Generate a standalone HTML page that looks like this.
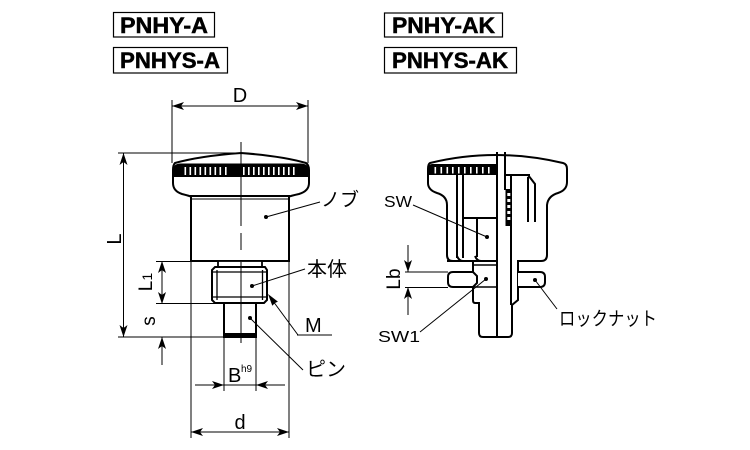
<!DOCTYPE html>
<html><head><meta charset="utf-8"><style>
html,body{margin:0;padding:0;background:#fff;}
svg{display:block;}
text{font-family:"Liberation Sans","Noto Sans CJK JP",sans-serif;fill:#000;}
</style></head><body>
<svg width="750" height="450" viewBox="0 0 750 450" xmlns="http://www.w3.org/2000/svg">
<!-- Title boxes -->
<g fill="none" stroke="#000" stroke-width="1.2">
<rect x="113.5" y="12.5" width="101" height="24.5"/>
<rect x="113.5" y="47.5" width="114" height="25.5"/>
<rect x="384.5" y="13" width="118" height="24"/>
<rect x="384.5" y="47.5" width="132" height="25.5"/>
</g>
<g font-weight="bold" font-size="22" stroke="#000" stroke-width="0.5">
<text x="120" y="33" textLength="88" lengthAdjust="spacingAndGlyphs">PNHY-A</text>
<text x="120" y="68" textLength="100" lengthAdjust="spacingAndGlyphs">PNHYS-A</text>
<text x="392" y="33" textLength="103" lengthAdjust="spacingAndGlyphs">PNHY-AK</text>
<text x="392" y="68" textLength="116" lengthAdjust="spacingAndGlyphs">PNHYS-AK</text>
</g>

<!-- ===== LEFT DRAWING ===== -->
<path d="M175,163 Q200,156 241,153 Q282,156 306,163 Q309,165 309,170 L309,183 Q309,191 299,194 Q290,196 288,197 L192,197 Q190,196 182,194 Q173,191 173,183 L173,170 Q173,165 175,163 Z" fill="#fff" stroke="#000" stroke-width="2"/>
<path d="M173,177 L173,170 Q173,164 180,163.5 L301,163.5 Q309,164 309,170 L309,177 Z" fill="#000"/>
<g fill="#fff">
<rect x="184.5" y="167" width="1.6" height="8"/><rect x="189.5" y="167" width="1.6" height="8"/><rect x="194.5" y="167" width="1.6" height="8"/><rect x="199.5" y="167" width="1.6" height="8"/><rect x="204.5" y="167" width="1.6" height="8"/><rect x="209.5" y="167" width="1.6" height="8"/><rect x="214.5" y="167" width="1.6" height="8"/><rect x="219.5" y="167" width="1.6" height="8"/><rect x="225" y="167" width="1.6" height="8"/>
<rect x="243" y="167" width="1.6" height="8"/><rect x="248" y="167" width="1.6" height="8"/><rect x="253" y="167" width="1.6" height="8"/><rect x="258" y="167" width="1.6" height="8"/><rect x="263" y="167" width="1.6" height="8"/><rect x="268" y="167" width="1.6" height="8"/><rect x="273" y="167" width="1.6" height="8"/><rect x="278" y="167" width="1.6" height="8"/><rect x="283" y="167" width="1.6" height="8"/><rect x="288" y="167" width="1.6" height="8"/><rect x="293" y="167" width="1.6" height="8"/>
</g>
<rect x="191" y="196" width="98" height="65" fill="#fff" stroke="#000" stroke-width="2"/>
<line x1="191" y1="199" x2="289" y2="199" stroke="#000" stroke-width="1"/>
<rect x="218" y="261" width="44" height="6" fill="#fff" stroke="#000" stroke-width="1.8"/>
<path d="M215,267 L265,267 L267,270 L267,300 L264,303 L215,303 L212,300 L212,270 Z" fill="#fff" stroke="#000" stroke-width="2"/>
<g stroke="#000" stroke-width="1.3">
<line x1="212" y1="272" x2="267" y2="272"/>
<line x1="212" y1="297" x2="267" y2="297"/>
<line x1="217" y1="270" x2="217" y2="300"/>
<line x1="262.5" y1="270" x2="262.5" y2="300"/>
</g>
<rect x="224" y="303" width="32" height="34" fill="#fff" stroke="#000" stroke-width="2"/>
<rect x="224" y="333" width="32" height="4" fill="#000"/>
<g stroke="#000" stroke-width="1">
<line x1="241" y1="142" x2="241" y2="226"/>
<line x1="241" y1="233" x2="241" y2="250"/>
<line x1="241" y1="262" x2="241" y2="343"/>
</g>
<g stroke="#000" stroke-width="1" fill="none">
<line x1="172" y1="100" x2="172" y2="163"/>
<line x1="308" y1="100" x2="308" y2="163"/>
<line x1="172" y1="106" x2="308" y2="106"/>
<line x1="118" y1="153" x2="241" y2="153"/>
<line x1="118" y1="337" x2="224" y2="337"/>
<line x1="123.5" y1="153" x2="123.5" y2="337"/>
<line x1="156" y1="261.5" x2="191" y2="261.5"/>
<line x1="156" y1="303.5" x2="224" y2="303.5"/>
<line x1="162" y1="261" x2="162" y2="304"/>
<line x1="162" y1="337" x2="162" y2="365"/>
<line x1="224" y1="337" x2="224" y2="391"/>
<line x1="256" y1="337" x2="256" y2="391"/>
<line x1="195" y1="385" x2="285" y2="385"/>
<line x1="191" y1="261" x2="191" y2="438"/>
<line x1="289" y1="261" x2="289" y2="438"/>
<line x1="191" y1="432" x2="289" y2="432"/>
<line x1="266" y1="217" x2="320" y2="202"/>
<line x1="252" y1="286" x2="305" y2="269"/>
<line x1="250" y1="318" x2="303" y2="370"/>
<line x1="298" y1="335" x2="270" y2="297"/>
<line x1="297" y1="335" x2="332" y2="335"/>
</g>
<g fill="#000">
<polygon points="172,106 184,102 181,106 184,110"/>
<polygon points="308,106 296,102 299,106 296,110"/>
<polygon points="123.5,153 119.5,165 123.5,162 127.5,165"/>
<polygon points="123.5,337 119.5,325 123.5,328 127.5,325"/>
<polygon points="162,261 158,273 162,270 166,273"/>
<polygon points="162,304 158,292 162,295 166,292"/>
<polygon points="162,337 158,349 162,346 166,349"/>
<polygon points="224,385 212,381 215,385 212,389"/>
<polygon points="256,385 268,381 265,385 268,389"/>
<polygon points="191,432 203,428 200,432 203,436"/>
<polygon points="289,432 277,428 280,432 277,436"/>
<polygon points="268,294 277.9,301.6 275,303 272.3,305.8"/>
<circle cx="266" cy="217" r="2"/>
<circle cx="252" cy="286" r="2"/>
<circle cx="250" cy="318" r="2"/>
</g>
<text x="240" y="102" font-size="20" text-anchor="middle">D</text>
<text transform="translate(121,239) rotate(-90)" font-size="20" text-anchor="middle">L</text>
<text transform="translate(152,282) rotate(-90)" font-size="19" text-anchor="middle">L<tspan font-size="14">1</tspan></text>
<text transform="translate(155,321) rotate(-90)" font-size="19" text-anchor="middle">s</text>
<text x="228" y="382" font-size="20">B</text>
<text x="241" y="372" font-size="10">h9</text>
<text x="240" y="429" font-size="20" text-anchor="middle">d</text>
<text x="305" y="332" font-size="20">M</text>
<text x="321" y="206" font-size="19">ノブ</text>
<text x="307" y="276" font-size="20">本体</text>
<text x="306" y="376" font-size="20">ピン</text>

<!-- ===== RIGHT DRAWING ===== -->
<path d="M430,163 Q495,147 563,163 Q567,164 567,169 L567,182 Q567,190 558,193 Q548,196 547,205 L547,255 Q547,261 541,261 L518,261 L518,300 L512,305 L512,333 Q512,337 508,337 L483,337 Q479,337 479,333 L479,303 L475,303 Q473,303 473,300 L473,261 L453,261 Q447,261 447,255 L447,205 Q447,196 437,193 Q428,190 428,183 L428,169 Q428,164 430,163 Z" fill="#fff" stroke="#000" stroke-width="2"/>
<path d="M428,175 L428,169 Q428,164 432,164 L497,164 L497,175 Z" fill="#000"/>
<g fill="#fff">
<rect x="434.5" y="167" width="1.6" height="6.5"/><rect x="440.5" y="167" width="1.6" height="6.5"/><rect x="446.5" y="167" width="1.6" height="6.5"/><rect x="452" y="167" width="1.6" height="6.5"/><rect x="458" y="167" width="1.6" height="6.5"/><rect x="464" y="167" width="1.6" height="6.5"/><rect x="470" y="167" width="1.6" height="6.5"/><rect x="476" y="167" width="1.6" height="6.5"/><rect x="482" y="167" width="1.6" height="6.5"/><rect x="488" y="167" width="1.6" height="6.5"/>
</g>
<g stroke="#000" stroke-width="2" fill="none">
<line x1="457" y1="175" x2="457" y2="258"/>
<line x1="463" y1="175" x2="463" y2="258"/>
<line x1="463" y1="218" x2="497" y2="218"/>
<line x1="477" y1="218" x2="477" y2="257"/>
<path d="M457,256 Q459,261 463,261"/>
<path d="M475,256 Q477,261 481,261"/>
<line x1="447" y1="261" x2="497" y2="261"/>
<line x1="497" y1="152" x2="497" y2="337"/>
<line x1="505" y1="152" x2="505" y2="190"/>
<line x1="511" y1="175" x2="511" y2="305"/>
<line x1="505" y1="175" x2="530" y2="175"/>
<polyline points="528,175 535,184 535,222"/>
<line x1="528" y1="177" x2="528" y2="222"/>
<path d="M473,265 L497,265" stroke-width="1.5"/>
<path d="M473,287 L497,287" stroke-width="1.5"/>
</g>
<rect x="505.5" y="189" width="6.5" height="37" fill="#000"/>
<g fill="#fff">
<rect x="507.3" y="193" width="3" height="3"/><rect x="507.3" y="199" width="3" height="3"/><rect x="507.3" y="205" width="3" height="3"/><rect x="507.3" y="211" width="3" height="3"/><rect x="507.3" y="217" width="3" height="3"/>
</g>
<path d="M453,272 L473,272 L477,276 L477,283 L473,287 L453,287 Q448,287 448,282 L448,277 Q448,272 453,272 Z" fill="#fff" stroke="#000" stroke-width="2"/>
<path d="M518,272 L540,272 Q545,272 545,277 L545,282 Q545,287 540,287 L518,287" fill="#fff" stroke="#000" stroke-width="2"/>
<g stroke="#000" stroke-width="1" fill="none">
<line x1="405" y1="272" x2="448" y2="272"/>
<line x1="405" y1="287.5" x2="448" y2="287.5"/>
<line x1="408" y1="245" x2="408" y2="272"/>
<line x1="408" y1="287" x2="408" y2="315"/>
<line x1="413" y1="205" x2="487" y2="237"/>
<line x1="420" y1="332" x2="486" y2="279"/>
<line x1="535" y1="280" x2="557" y2="309"/>
</g>
<g fill="#000">
<polygon points="408,272 404,260 408,263 412,260"/>
<polygon points="408,287 404,299 408,296 412,299"/>
<circle cx="487" cy="237" r="2"/>
<circle cx="486" cy="279" r="2"/>
<circle cx="535" cy="280" r="2"/>
</g>
<text transform="translate(400,279) rotate(-90)" font-size="19" text-anchor="middle">Lb</text>
<text x="384" y="207" font-size="16" textLength="28" lengthAdjust="spacingAndGlyphs">SW</text>
<text x="378" y="342" font-size="16" textLength="42" lengthAdjust="spacingAndGlyphs">SW1</text>
<text x="559" y="325" font-size="19" textLength="98" lengthAdjust="spacingAndGlyphs">ロックナット</text>
</svg>
</body></html>
